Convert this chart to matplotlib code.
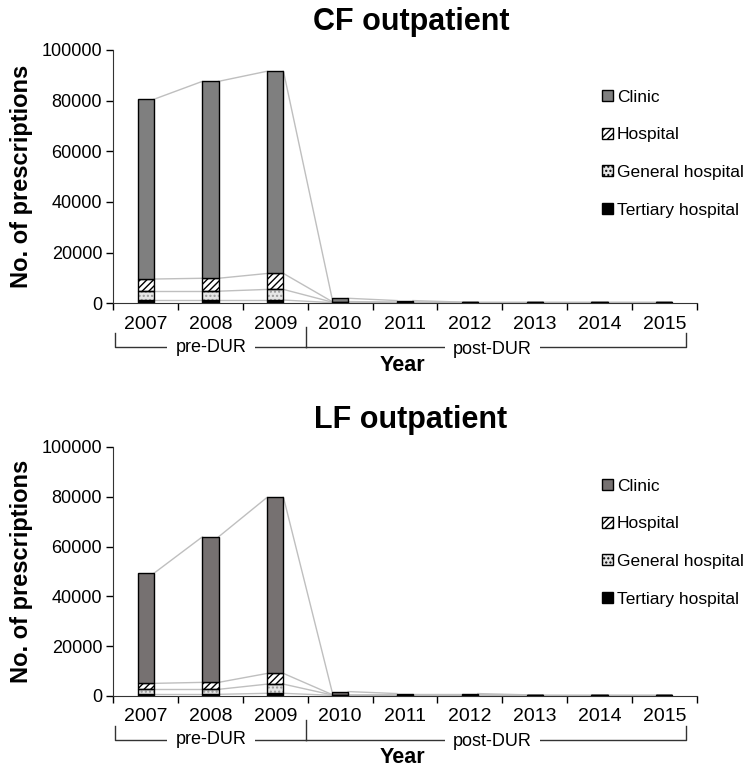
import numpy as np
import matplotlib.pyplot as plt
import matplotlib.transforms as mtransforms
from matplotlib.patches import Patch

plt.rcParams['font.family'] = ['Liberation Sans', 'DejaVu Sans']
plt.rcParams['hatch.linewidth'] = 1.0

years = ['2007', '2008', '2009', '2010', '2011', '2012', '2013', '2014', '2015']
groups = ['Tertiary hospital', 'General hospital', 'Hospital', 'Clinic']

# CF outpatient
cf_tertiary = [1300, 1300, 1300, 300, 300, 300, 300, 300, 300]
cf_general = [3500, 3500, 4200, 200, 100, 50, 50, 50, 50]
cf_hospital = [4800, 5100, 6300, 200, 100, 50, 50, 50, 50]
cf_clinic = [70900, 77700, 79800, 1300, 600, 100, 100, 100, 100]

# LF outpatient
lf_tertiary = [600, 600, 1000, 200, 300, 300, 200, 200, 200]
lf_general = [2000, 2000, 3700, 150, 100, 100, 50, 50, 50]
lf_hospital = [2400, 2800, 4300, 150, 100, 100, 50, 50, 50]
lf_clinic = [44200, 58500, 70800, 1200, 400, 400, 100, 100, 100]


def draw_panel(ax, title, tert, gen, hosp, clin, clinic_color, leg_y):
    x = np.arange(len(years))
    w = 0.25
    b1 = np.array(tert)
    b2 = b1 + np.array(gen)
    b3 = b2 + np.array(hosp)
    b4 = b3 + np.array(clin)

    # series lines between bars
    for level in [b1, b2, b3, b4]:
        for i in range(len(x) - 1):
            ax.plot([x[i] + w / 2, x[i + 1] - w / 2], [level[i], level[i + 1]],
                    color='#bfbfbf', lw=1, zorder=1)

    ax.bar(x, tert, w, color='black', edgecolor='black', lw=1, zorder=2)
    ax.bar(x, gen, w, bottom=b1, color='#e6e6e6', edgecolor='#9a9a9a',
           hatch='....', lw=0, zorder=2)
    ax.bar(x, gen, w, bottom=b1, fill=False, edgecolor='black', lw=1, zorder=3)
    ax.bar(x, hosp, w, bottom=b2, color='white', edgecolor='black',
           hatch='/////', lw=1, zorder=2)
    ax.bar(x, clin, w, bottom=b3, color=clinic_color, edgecolor='black', lw=1, zorder=2)

    ax.set_xlim(-0.5, len(years) - 0.5)
    ax.set_ylim(0, 100000)
    ax.set_yticks(range(0, 100001, 20000))
    ax.tick_params(axis='y', labelsize=13, length=5, width=1, pad=3)
    ax.set_xticks(x)
    ax.set_xticklabels(years, fontsize=14)
    ax.set_xticks(np.arange(-0.5, len(years)), minor=True)
    ax.tick_params(axis='x', which='major', length=0, pad=9)
    ax.tick_params(axis='x', which='minor', length=5, width=1)
    for s in ['top', 'right']:
        ax.spines[s].set_visible(False)
    ax.spines['left'].set_color('#333333')
    ax.spines['bottom'].set_color('#333333')

    ax.set_ylabel('No. of prescriptions', fontsize=17, fontweight='bold', labelpad=6)
    ax.text(0.51, 1.11, title, transform=ax.transAxes, ha='center', va='center',
            fontsize=22, fontweight='bold')

    # pre / post DUR brackets
    h = ax.get_position().height * 768
    y_top = -30 / h
    y_bot = -44 / h
    tr = mtransforms.blended_transform_factory(ax.transData, ax.transAxes)
    xl, xm, xr = -0.47, 2.48, 8.33
    kw = dict(color='#333333', lw=1, transform=tr, clip_on=False)
    ax.plot([xl, xl, xm], [y_top, y_bot, y_bot], **kw)
    ax.plot([xm, xm], [y_top + 6 / h, y_bot], **kw)
    ax.plot([xm, xr, xr], [y_bot, y_bot, y_top], **kw)
    tkw = dict(transform=tr, ha='center', va='center', fontsize=13,
               bbox=dict(facecolor='white', edgecolor='none', pad=6))
    ax.text((xl + xm) / 2, y_bot, 'pre-DUR', **tkw)
    ax.text(5.35, y_bot - 2 / h, 'post-DUR', **tkw)
    ax.text(0.495, -62 / h, 'Year', transform=ax.transAxes, ha='center',
            va='center', fontsize=15.5, fontweight='bold')

    handles = [
        Patch(facecolor=clinic_color, edgecolor='black', label='Clinic'),
        Patch(facecolor='white', edgecolor='black', hatch='/////', label='Hospital'),
        Patch(facecolor='#e6e6e6', edgecolor='black', hatch='....', label='General hospital'),
        Patch(facecolor='black', edgecolor='black', label='Tertiary hospital'),
    ]
    ax.legend(handles=handles, loc='upper left', bbox_to_anchor=(0.826, leg_y),
              frameon=False, fontsize=12.5, handlelength=0.6, handleheight=0.6,
              handletextpad=0.25, labelspacing=1.3, borderaxespad=0)


fig = plt.figure(figsize=(7.5, 7.68), dpi=100)
ax1 = fig.add_axes([0.151, 0.605, 0.778, 0.33])
ax2 = fig.add_axes([0.151, 0.094, 0.778, 0.324])

draw_panel(ax1, 'CF outpatient', cf_tertiary, cf_general, cf_hospital, cf_clinic,
           '#7f7f7f', 0.87)
draw_panel(ax2, 'LF outpatient', lf_tertiary, lf_general, lf_hospital, lf_clinic,
           '#767171', 0.9)

fig.savefig('out.png', dpi=100)
